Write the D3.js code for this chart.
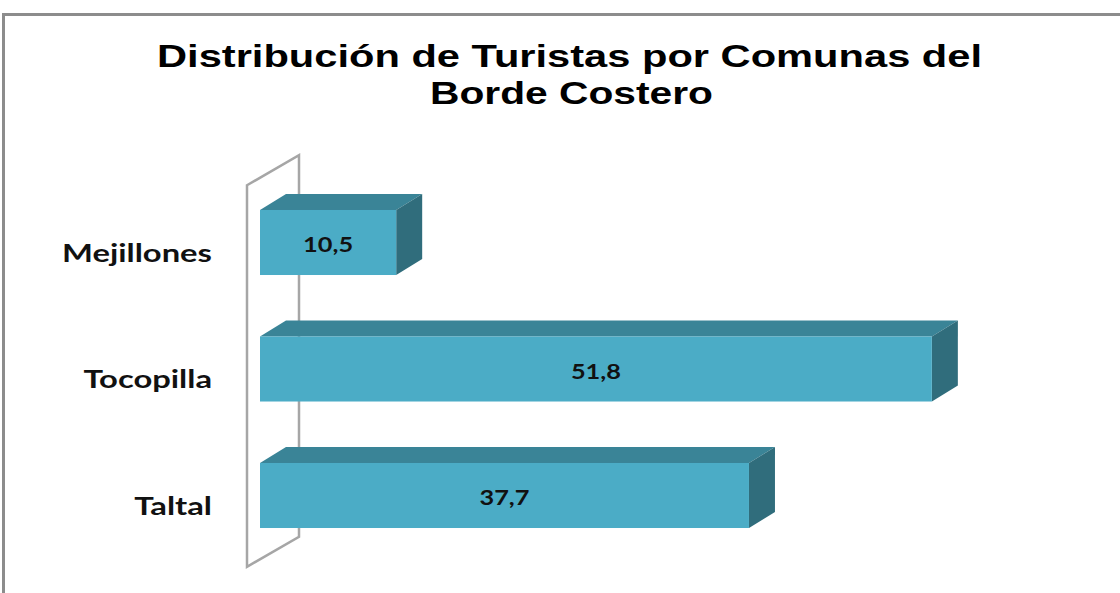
<!DOCTYPE html>
<html>
<head>
<meta charset="utf-8">
<script src="https://cdnjs.cloudflare.com/ajax/libs/d3/7.8.5/d3.min.js"></script>
<style>
  body { margin: 0; background: #fff; }
  svg { display: block; }
</style>
</head>
<body>
<svg id="chart"></svg>
<script>
// data
const comunas = ["Mejillones", "Tocopilla", "Taltal"];
const turistas = [10.5, 51.8, 37.7];
const etiquetas = ["10,5", "51,8", "37,7"];
const titulo = ["Distribución de Turistas por Comunas del", "Borde Costero"];

const W = 1120, H = 593;
let svg = d3.select("#chart").attr("width", W).attr("height", H);

// outer frame of the chart area
svg.append("rect")
  .attr("x", 3.5).attr("y", 14.5)
  .attr("width", W + 20).attr("height", H + 20)
  .attr("fill", "#fff")
  .attr("stroke", "#8c8c8c")
  .attr("stroke-width", 3);

// title, slightly wide like the original
const titleW = [825, 283];
svg.selectAll("text.title")
  .data(titulo)
  .join("text")
  .attr("class", "title")
  .attr("x", (d, i) => i == 0 ? 569.5 : 571.5)
  .attr("y", (d, i) => 67 + i * 37)
  .attr("text-anchor", "middle")
  .attr("font-family", "Liberation Sans, Arial, sans-serif")
  .attr("font-weight", "bold")
  .attr("font-size", 31)
  .attr("textLength", (d, i) => titleW[i])
  .attr("lengthAdjust", "spacingAndGlyphs")
  .text(d => d);

let x = d3.scaleLinear().domain([0, 60]).range([260, 260 + 60 * 12.97]);
let y = d3.scaleBand().domain(comunas).range([179.25, 558.75])
  .paddingInner(0.486).paddingOuter(0.243);

// 3d depths
const wallDx = 52, wallDy = -30;
const barDx = 26, barDy = -16;

// the side wall (category axis)
let y0 = y.range()[0] + 6, y1 = y.range()[1] + 8;
let wx = 247;
svg.append("path")
  .attr("d", `M${wx},${y0} L${wx + wallDx},${y0 + wallDy} L${wx + wallDx},${y1 + wallDy} L${wx},${y1} Z`)
  .attr("fill", "none")
  .attr("stroke", "#a6a6a6")
  .attr("stroke-width", 2.5)
  .attr("stroke-linejoin", "miter");

const rows = comunas.map((c, i) => ({ c, v: turistas[i], lab: etiquetas[i] }));

let bars = svg.selectAll("g.bar").data(rows).join("g").attr("class", "bar");

// top face
bars.append("path")
  .attr("d", d => {
    let x0 = x(0), x1 = x(d.v), t = y(d.c);
    return `M${x0},${t} L${x0 + barDx},${t + barDy} L${x1 + barDx},${t + barDy} L${x1},${t} Z`;
  })
  .attr("fill", "#3a8497");

// side face
bars.append("path")
  .attr("d", d => {
    let x1 = x(d.v), t = y(d.c), b = t + y.bandwidth();
    return `M${x1},${t} L${x1 + barDx},${t + barDy} L${x1 + barDx},${b + barDy} L${x1},${b} Z`;
  })
  .attr("fill", "#306d7c");

// front face
bars.append("rect")
  .attr("x", x(0))
  .attr("y", d => y(d.c))
  .attr("width", d => x(d.v) - x(0))
  .attr("height", y.bandwidth())
  .attr("fill", "#4bacc6");

// value labels
let vals = bars.append("text")
  .attr("text-anchor", "middle")
  .attr("font-family", "Lato, sans-serif")
  .attr("font-weight", "bold")
  .attr("font-size", 21)
  .attr("fill", "#111")
  .text(d => d.lab);

// source text is wider than Lato ("10,5" is ~50px)
let vsx = 50 / vals.nodes()[0].getComputedTextLength();
vals.attr("transform", d =>
  `translate(${(x(0) + x(d.v)) / 2},${y(d.c) + y.bandwidth() / 2 + 9.5}) scale(${vsx},1)`);

// category labels
let cats = svg.selectAll("text.cat")
  .data(comunas)
  .join("text")
  .attr("class", "cat")
  .attr("text-anchor", "end")
  .attr("font-family", "Lato, sans-serif")
  .attr("font-weight", "bold")
  .attr("font-size", 25)
  .attr("fill", "#111")
  .text(d => d);

// stretch labels horizontally like the source (Mejillones is ~150px wide)
let natural = cats.nodes()[0].getComputedTextLength();
let sx = 150 / natural;
cats.attr("transform", d => `translate(212,${y(d) + y.bandwidth() / 2 + 19}) scale(${sx},1)`);
</script>
</body>
</html>
